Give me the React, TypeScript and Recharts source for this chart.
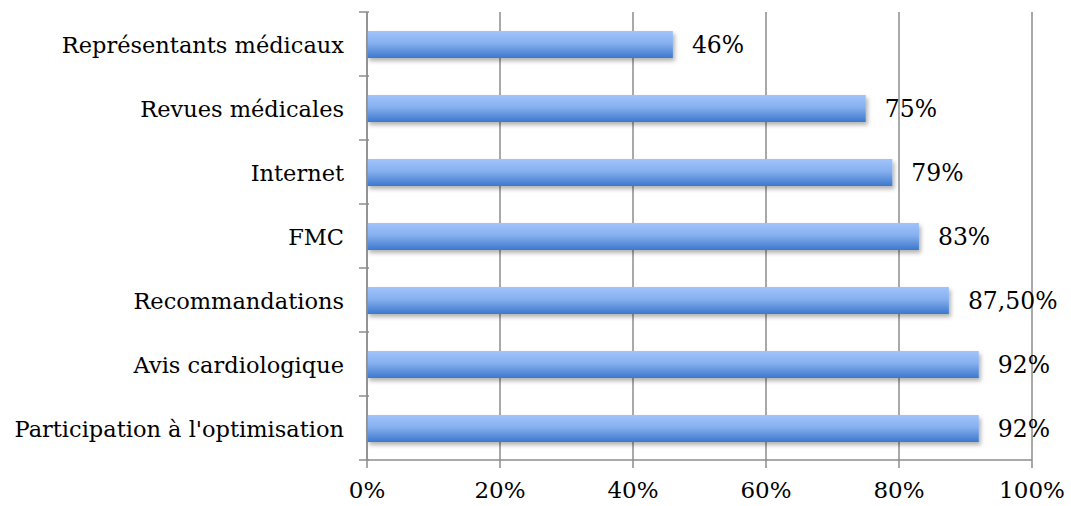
import React from "react";
import {
  Bar,
  BarChart,
  CartesianGrid,
  LabelList,
  XAxis,
  YAxis,
} from "recharts";

const categories = [
  "Représentants médicaux",
  "Revues médicales",
  "Internet",
  "FMC",
  "Recommandations",
  "Avis cardiologique",
  "Participation à l'optimisation",
];
const values = [46, 75, 79, 83, 87.5, 92, 92];
const valueLabels = ["46%", "75%", "79%", "83%", "87,50%", "92%", "92%"];
const xTicks = [0, 20, 40, 60, 80, 100];

const data = categories.map((name, i) => ({
  name,
  value: values[i],
  label: valueLabels[i],
}));

const W = 1071;
const H = 506;
const margin = { top: 12, right: 39, bottom: 0, left: 0 };
const xAxisHeight = 46;
const band = (H - margin.top - margin.bottom - xAxisHeight) / categories.length;
const font = "'DejaVu Serif', 'Liberation Serif', serif";
const gray = "#8c8c8c";

const CategoryTick = (props: any) => {
  const { x, y, payload, index } = props;
  const last = index === categories.length - 1;
  return (
    <g>
      <line x1={x} x2={x + 10} y1={y - band / 2} y2={y - band / 2} stroke={gray} strokeWidth={1.5} />
      {last && (
        <line x1={x} x2={x + 10} y1={y + band / 2} y2={y + band / 2} stroke={gray} strokeWidth={1.5} />
      )}
      <text x={x - 15} y={y + 1} textAnchor="end" dominantBaseline="central" fontSize={22.5} fontFamily={font} fill="#000">
        {payload.value}
      </text>
    </g>
  );
};

export default function App() {
  return (
    <div style={{ position: "absolute", left: 0, top: 0, background: "#fff" }}>
      <BarChart
        width={W}
        height={H}
        data={data}
        layout="vertical"
        margin={margin}
        barSize={27}
      >
        <defs>
          <linearGradient id="barGrad" x1="0" y1="0" x2="0" y2="1">
            <stop offset="0%" stopColor="#a0c4fb" />
            <stop offset="45%" stopColor="#86b0f0" />
            <stop offset="100%" stopColor="#3d78cc" />
          </linearGradient>
          <filter id="shadow" x="-5%" y="-30%" width="110%" height="170%">
            <feDropShadow dx="2" dy="3" stdDeviation="2" floodColor="#000" floodOpacity="0.3" />
          </filter>
        </defs>
        <CartesianGrid horizontal={false} stroke={gray} strokeWidth={1.5} />
        <XAxis
          type="number"
          domain={[0, 100]}
          ticks={xTicks}
          tickFormatter={(v) => `${v}%`}
          height={xAxisHeight}
          stroke={gray}
          strokeWidth={1.5}
          tickSize={8}
          tick={{ fill: "#000", fontSize: 23, fontFamily: font, dy: 12 }}
          interval={0}
        />
        <YAxis
          type="category"
          dataKey="name"
          width={367}
          stroke={gray}
          strokeWidth={1.5}
          tickLine={false}
          tick={<CategoryTick />}
          interval={0}
        />
        <Bar dataKey="value" fill="url(#barGrad)" filter="url(#shadow)" isAnimationActive={false}>
          <LabelList
            dataKey="label"
            position="right"
            offset={19}
            fill="#000"
            fontSize={23.5}
            fontFamily={font}
          />
        </Bar>
      </BarChart>
    </div>
  );
}
